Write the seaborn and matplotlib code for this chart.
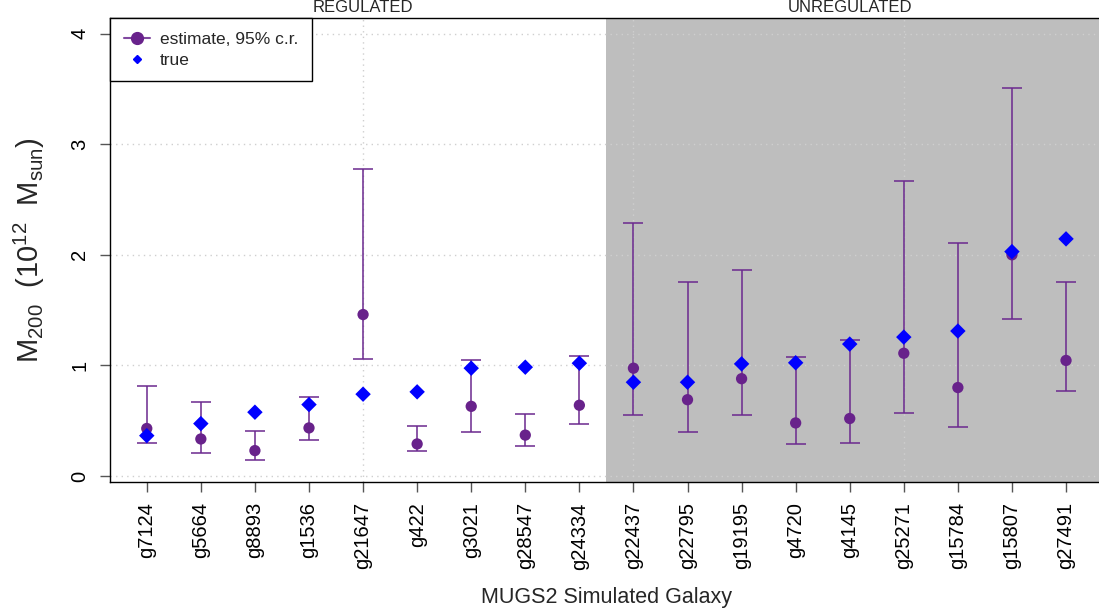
import numpy as np
import pandas as pd
import matplotlib
matplotlib.use("Agg")
import matplotlib.pyplot as plt
import matplotlib.transforms as mtransforms
from matplotlib.lines import Line2D
import seaborn as sns

# ---- data: M200 estimates (10^12 Msun) with 95% credible regions ----
galaxies = ["g7124", "g5664", "g8893", "g1536", "g21647", "g422", "g3021",
            "g28547", "g24334", "g22437", "g22795", "g19195", "g4720",
            "g4145", "g25271", "g15784", "g15807", "g27491"]
groups = ["REGULATED"] * 9 + ["UNREGULATED"] * 9
estimate = [0.43, 0.335, 0.23, 0.435, 1.46, 0.29, 0.63, 0.37, 0.64,
            0.975, 0.69, 0.88, 0.48, 0.52, 1.11, 0.80, 2.00, 1.045]
lower = [0.30, 0.21, 0.148, 0.323, 1.057, 0.224, 0.40, 0.272, 0.474,
         0.556, 0.40, 0.549, 0.288, 0.302, 0.568, 0.441, 1.422, 0.773]
upper = [0.815, 0.673, 0.41, 0.718, 2.78, 0.45, 1.045, 0.565, 1.081,
         2.29, 1.757, 1.86, 1.075, 1.232, 2.665, 2.108, 3.505, 1.751]
true_mass = [0.365, 0.474, 0.577, 0.646, 0.74, 0.761, 0.975, 0.984, 1.02,
             0.848, 0.848, 1.014, 1.024, 1.193, 1.256, 1.311, 2.029, 2.144]

df = pd.DataFrame({
    "galaxy": galaxies,
    "group": groups,
    "pos": np.arange(1, len(galaxies) + 1),
    "estimate": estimate,
    "lower": lower,
    "upper": upper,
    "true": true_mass,
})

sns.set_theme(style="white")
plt.rcParams["font.family"] = ["Liberation Sans", "DejaVu Sans"]
plt.rcParams["mathtext.fontset"] = "custom"
plt.rcParams["mathtext.rm"] = "Liberation Sans"

W, H = 1099, 613
fig = plt.figure(figsize=(W / 100, H / 100), dpi=100)
ax = fig.add_axes([110 / W, (H - 482) / H, 992.8 / W, 464 / H])

n = len(df)
pad = 0.04 * (n - 1)
ax.set_xlim(1 - pad, n + pad)
ax.set_ylim(-0.054, 4.141)

purple = "#68228B"
bar_col = (0.42, 0.16, 0.56, 0.85)

# shaded block for the unregulated galaxies
first_unreg = df.loc[df.group == "UNREGULATED", "pos"].min()
ax.axvspan(first_unreg - 0.5, n + 1, color="#BEBEBE", lw=0, zorder=0)

# dotted reference grid
yt = [0, 1, 2, 3, 4]
grid_kw = dict(color="#CFCFCF", lw=1.0, linestyle=(0, (1, 3)), zorder=1)
for y in yt:
    ax.axhline(y, **grid_kw)
for x in [5, 10, 15]:
    ax.axvline(x, **grid_kw)

# credible intervals
ax.errorbar(df.pos, df.estimate,
            yerr=[df.estimate - df.lower, df.upper - df.estimate],
            fmt="none", ecolor=bar_col, elinewidth=1.3, capsize=7.5,
            capthick=1.3, zorder=2)

sns.scatterplot(data=df, x="pos", y="estimate", color=purple, s=66,
                marker="o", edgecolor="none", linewidth=0, zorder=3,
                ax=ax, legend=False)
sns.scatterplot(data=df, x="pos", y="true", color="#0000FF", s=62,
                marker="D", edgecolor="none", linewidth=0, zorder=4,
                ax=ax, legend=False)

# axes styling
for sp in ax.spines.values():
    sp.set_visible(True)
    sp.set_color("black")
    sp.set_linewidth(1.0)

ax.set_xticks(df.pos)
ax.set_xticklabels(df.galaxy, rotation=90, ha="center", va="top")
ax.set_yticks(yt)
ax.set_yticklabels([str(v) for v in yt], rotation=90, va="center")
ax.tick_params(axis="both", which="major", length=7.5, width=1.0,
               color="#555555", labelcolor="black", labelsize=14.5,
               direction="out", bottom=True, left=True, top=False,
               right=False)
ax.tick_params(axis="x", pad=7)
ax.tick_params(axis="y", pad=7.5)
ax.set_xlabel("")
ax.set_ylabel("")

ax.text(0.5, (482 - 598) / 464, "MUGS2 Simulated Galaxy",
        transform=ax.transAxes, ha="center", va="center", fontsize=15.5)
ax.text((29 - 110) / 992.8, 0.5,
        r"M$_\mathregular{200}$  (10$^\mathregular{12}$  M$_\mathregular{sun}$)",
        transform=ax.transAxes, ha="center", va="center", rotation=90,
        fontsize=21)

# group labels above the panel
trans = mtransforms.blended_transform_factory(ax.transData, ax.transAxes)
for g, sub in df.groupby("group"):
    ax.text(sub.pos.mean(), 1 + 10 / 464, g, transform=trans,
            ha="center", va="center", fontsize=12)

handles = [
    Line2D([], [], color=bar_col, lw=1.5, marker="o", markersize=8.5,
           markerfacecolor=purple, markeredgecolor=purple),
    Line2D([], [], color="none", marker="D", markersize=4.5,
           markerfacecolor="#0000FF", markeredgecolor="#0000FF"),
]
leg = ax.legend(handles, ["estimate, 95% c.r.", "true"], loc="upper left",
                bbox_to_anchor=(0, 1), borderaxespad=0, fontsize=12.5,
                frameon=True, fancybox=False, framealpha=1,
                edgecolor="black", handlelength=1.5, handletextpad=0.6,
                labelspacing=0.33, borderpad=0.78)
leg.get_frame().set_linewidth(1.0)
leg.set_zorder(6)

fig.savefig("out.png", dpi=100)
